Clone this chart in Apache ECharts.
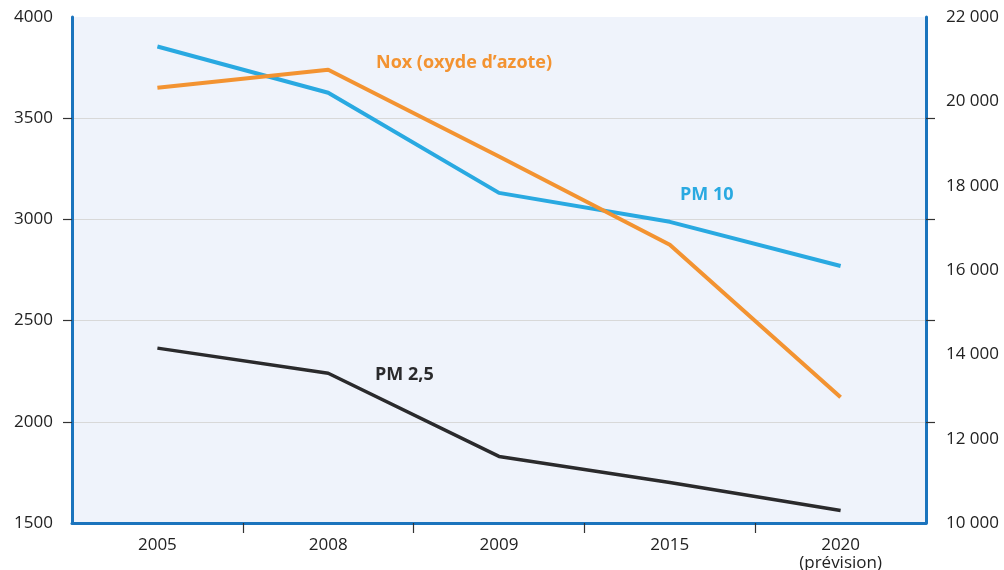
<!DOCTYPE html>
<html><head><meta charset="utf-8">
<script src="https://cdn.jsdelivr.net/npm/echarts@6/dist/echarts.min.js"></script>
<style>html,body{margin:0;padding:0;background:#fff}#c{width:1004px;height:570px}</style>
</head><body><div id="c"></div>
<script>
const categories = ['2005', '2008', '2009', '2015', '2020\n(prévision)'];
const pm10 = [3854, 3626, 3131, 2988, 2770];
const pm25 = [2364, 2240, 1829, 1700, 1562];
const nox = [20320, 20750, 18690, 16600, 12980];
const leftTicks = [1500, 2000, 2500, 3000, 3500, 4000];
const rightTicks = [10000, 12000, 14000, 16000, 18000, 20000, 22000];

const font = '"Open Sans", "Noto Sans", sans-serif';
const axisBlue = '#1b74bd';
const chart = echarts.init(document.getElementById('c'));
chart.setOption({
  animation: false,
  grid: { left: 72, right: 78, top: 17, bottom: 47, show: true, backgroundColor: '#eff3fb', borderWidth: 0, outerBoundsMode: 'none', containLabel: false },
  xAxis: [
    {
      type: 'category', data: categories, boundaryGap: true,
      axisLine: { lineStyle: { color: axisBlue, width: 3 } },
      axisTick: { show: false },
      axisLabel: { color: '#222', fontSize: 17, fontFamily: font, margin: 13, lineHeight: 18 }
    },
    {
      type: 'value', position: 'bottom', min: 0, max: categories.length, interval: 1,
      axisLine: { show: false },
      axisTick: { show: true, length: 10, lineStyle: { color: '#333', width: 1.2 }, customValues: [1, 2, 3, 4] },
      axisLabel: { show: false },
      splitLine: { show: false }
    }
  ],
  yAxis: [
    {
      type: 'value', position: 'left', min: leftTicks[0], max: leftTicks[leftTicks.length - 1], interval: 500,
      axisLine: { show: true, lineStyle: { color: axisBlue, width: 3 } },
      axisTick: { show: true, inside: false, length: 9, lineStyle: { color: '#333', width: 1.2 }, customValues: leftTicks.slice(1, -1) },
      axisLabel: { color: '#222', fontSize: 17, fontFamily: font, margin: 19, formatter: v => String(v) },
      splitLine: { show: true, lineStyle: { color: '#d8d8d8', width: 1 } }
    },
    {
      type: 'value', position: 'right', min: rightTicks[0], max: rightTicks[rightTicks.length - 1], interval: 2000,
      axisLine: { show: true, lineStyle: { color: axisBlue, width: 3 } },
      axisTick: { show: false },
      axisLabel: { color: '#222', fontSize: 17, fontFamily: font, margin: 20,
        formatter: v => String(v).replace(/\B(?=(\d{3})+(?!\d))/g, ' ') },
      splitLine: { show: false }
    },
    {
      type: 'value', position: 'right', min: leftTicks[0], max: leftTicks[leftTicks.length - 1], interval: 500,
      axisLine: { show: false },
      axisTick: { show: true, length: 9, lineStyle: { color: '#333', width: 1.2 }, customValues: leftTicks.slice(1, -1) },
      axisLabel: { show: false },
      splitLine: { show: false }
    }
  ],
  series: [
    { name: 'PM 10', type: 'line', xAxisIndex: 0, yAxisIndex: 0, data: pm10, symbol: 'none', lineStyle: { color: '#29a9e1', width: 4 } },
    { name: 'Nox', type: 'line', xAxisIndex: 0, yAxisIndex: 1, data: nox, symbol: 'none', lineStyle: { color: '#f39331', width: 4 } },
    { name: 'PM 2,5', type: 'line', xAxisIndex: 0, yAxisIndex: 0, data: pm25, symbol: 'none', lineStyle: { color: '#2a2a2c', width: 3.5 } }
  ],
  graphic: [
    { type: 'text', left: 376, top: 54, style: { text: 'Nox (oxyde d’azote)', fill: '#f39331', font: 'bold 18px ' + font } },
    { type: 'text', left: 680, top: 186, style: { text: 'PM 10', fill: '#29a9e1', font: 'bold 18px ' + font } },
    { type: 'text', left: 375, top: 366, style: { text: 'PM 2,5', fill: '#2a2a2c', font: 'bold 18px ' + font } }
  ]
});
</script></body></html>
